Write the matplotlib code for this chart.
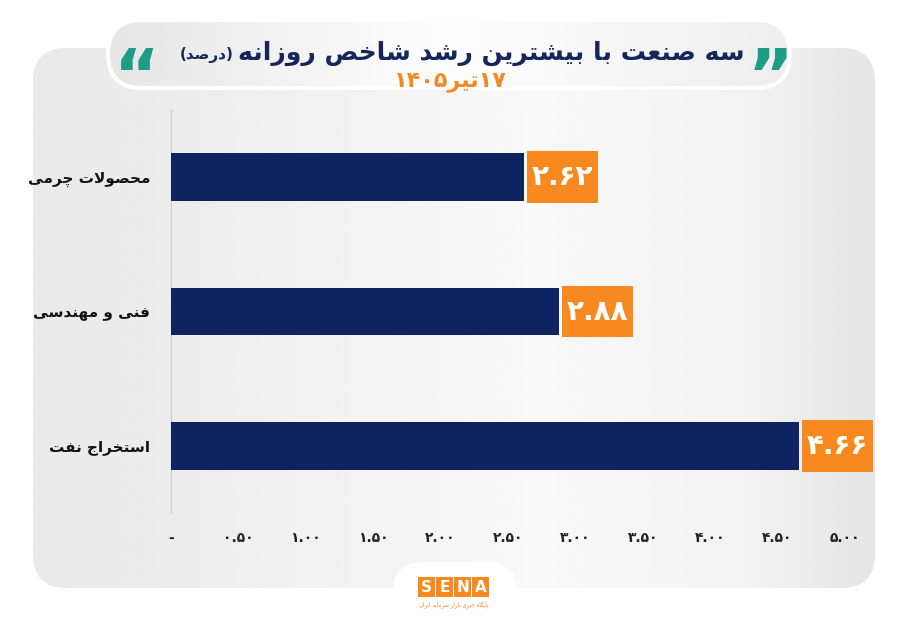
import re
import numpy as np
import matplotlib
matplotlib.use("Agg")
import matplotlib.pyplot as plt
from matplotlib.patches import FancyBboxPatch, Rectangle

# ---------------- data ----------------
categories = ["محصولات چرمی", "فنی و مهندسی", "استخراج نفت"]
values = [2.62, 2.88, 4.66]
xticks = [0, 0.5, 1.0, 1.5, 2.0, 2.5, 3.0, 3.5, 4.0, 4.5, 5.0]
title_main = "سه صنعت با بیشترین رشد شاخص روزانه"
title_unit = "(درصد)"
subtitle = "۱۷تیر۱۴۰۵"
logo_letters = ["S", "E", "N", "A"]
logo_caption = "پایگاه خبری بازار سرمایه ایران"

# ---------------- simple Arabic/Persian shaping ----------------
DUAL = {'ب': 0xFE8F, 'پ': 0xFB56, 'ت': 0xFE95, 'ث': 0xFE99, 'ج': 0xFE9D, 'چ': 0xFB7A,
        'ح': 0xFEA1, 'خ': 0xFEA5, 'س': 0xFEB1, 'ش': 0xFEB5, 'ص': 0xFEB9, 'ض': 0xFEBD,
        'ط': 0xFEC1, 'ظ': 0xFEC5, 'ع': 0xFEC9, 'غ': 0xFECD, 'ف': 0xFED1, 'ق': 0xFED5,
        'ک': 0xFB8E, 'گ': 0xFB92, 'ل': 0xFEDD, 'م': 0xFEE1, 'ن': 0xFEE5, 'ه': 0xFEE9,
        'ی': 0xFBFC, 'ئ': 0xFE89}
RIGHT = {'ا': 0xFE8D, 'آ': 0xFE81, 'د': 0xFEA9, 'ذ': 0xFEAB, 'ر': 0xFEAD, 'ز': 0xFEAF,
         'ژ': 0xFB8A, 'و': 0xFEED}


def shape(s):
    out = []
    i, n = 0, len(s)
    while i < n:
        c = s[i]
        pc = i > 0 and s[i - 1] in DUAL
        if c == 'ل' and i + 1 < n and s[i + 1] == 'ا':
            out.append('\uFEFC' if pc else '\uFEFB')
            i += 2
            continue
        nxt = s[i + 1] if i + 1 < n else ''
        nc = nxt in DUAL or nxt in RIGHT
        if c in DUAL:
            b = DUAL[c]
            out.append(chr(b + 3) if (pc and nc) else chr(b + 1) if pc else chr(b + 2) if nc else chr(b))
        elif c in RIGHT:
            b = RIGHT[c]
            out.append(chr(b + 1) if pc else chr(b))
        else:
            out.append(c)
        i += 1
    vis = ''.join(out)[::-1]
    vis = re.sub(r'[0-9\u06F0-\u06F9.]+', lambda m: m.group(0)[::-1], vis)
    vis = vis.translate(str.maketrans({'(': ')', ')': '('}))
    return vis


def fa_digits(s):
    return s.translate(str.maketrans("0123456789", "۰۱۲۳۴۵۶۷۸۹"))


FONT = ['DejaVu Sans']
NAVY = '#0e2360'
ORANGE = '#f7891f'
TITLE_NAVY = '#17265a'
TEAL = '#1e9c86'

W, H = 900, 623
fig = plt.figure(figsize=(W / 100, H / 100), dpi=100)
fig.patch.set_facecolor('white')

# ---------------- background layer (pixel coordinates) ----------------
bg = fig.add_axes([0, 0, 1, 1])
bg.set_xlim(0, W)
bg.set_ylim(H, 0)
bg.axis('off')

card = FancyBboxPatch((33, 48), 842, 540, boxstyle='round,pad=0,rounding_size=34',
                      facecolor='#eeeeee', edgecolor='none', zorder=1)
bg.add_patch(card)
xs = np.linspace(0, 1, 300)
prof = np.interp(xs, [0, 0.2, 0.6, 0.85, 1], [0.915, 0.93, 0.975, 0.95, 0.9])
grad = np.tile(prof, (50, 1))
im = bg.imshow(grad, cmap='gray', vmin=0, vmax=1, extent=(33, 875, 588, 48),
               aspect='auto', zorder=2, interpolation='bicubic')
im.set_clip_path(card)

pill = FancyBboxPatch((108, 20), 682, 68, boxstyle='round,pad=0,rounding_size=34',
                      facecolor='#f2f2f2', edgecolor='none', zorder=3)
bg.add_patch(pill)
prof2 = np.interp(xs, [0, 0.5, 1], [0.9, 0.995, 0.93])
im2 = bg.imshow(np.tile(prof2, (20, 1)), cmap='gray', vmin=0, vmax=1,
                extent=(108, 790, 88, 20), aspect='auto', zorder=4, interpolation='bicubic')
im2.set_clip_path(pill)
bg.add_patch(FancyBboxPatch((108, 20), 682, 68, boxstyle='round,pad=0,rounding_size=34',
                            facecolor='none', edgecolor='white', lw=3, zorder=5))

# logo tab
bg.add_patch(FancyBboxPatch((393, 562), 124, 90, boxstyle='round,pad=0,rounding_size=30',
                            facecolor='white', edgecolor='none', zorder=3))
for k, letter in enumerate(logo_letters):
    x0 = 418 + k * 18
    bg.add_patch(Rectangle((x0, 577), 17, 20, facecolor=ORANGE, edgecolor='none', zorder=6))
    bg.text(x0 + 8.5, 587.5, letter, color='white', fontsize=11, fontweight='bold',
            ha='center', va='center', family=FONT, zorder=7)
bg.text(454, 605, shape(logo_caption), color=ORANGE, fontsize=4, ha='center', va='center',
        family=FONT, zorder=7)

# title
t_main = bg.text(745, 53, shape(title_main), color=TITLE_NAVY, fontsize=18, fontweight='bold',
                 ha='right', va='center', family=FONT, zorder=8)
fig.canvas.draw()
bb = t_main.get_window_extent()
left_px = bb.x0
bg.text(left_px - 5, 55, shape(title_unit), color=TITLE_NAVY, fontsize=11, fontweight='bold',
        ha='right', va='center', family=FONT, zorder=8)
bg.text(450, 82, shape(subtitle), color='#f08a24', fontsize=16, fontweight='bold',
        ha='center', va='center', family=FONT, zorder=8)
bg.text(137, 80, '\u201c', color=TEAL, fontsize=50, fontweight='bold', ha='center',
        va='center', family=FONT, zorder=8)
bg.text(770, 80, '\u201d', color=TEAL, fontsize=50, fontweight='bold', ha='center',
        va='center', family=FONT, zorder=8)

# ---------------- main chart ----------------
ax = fig.add_axes([171 / W, 1 - 513 / H, (845 - 171) / W, (513 - 110) / H])
ax.set_facecolor('none')
ypos = np.arange(len(categories))
ax.barh(ypos, values, height=0.357, color=NAVY, zorder=3)
ax.set_xlim(0, 5.0)
ax.set_ylim(2.5, -0.5)

px_per_unit = (845 - 171) / 5.0
gap = 3 / px_per_unit
box_w = 71 / px_per_unit
box_h = 0.387
for yi, v in zip(ypos, values):
    ax.add_patch(Rectangle((v + gap, yi - box_h / 2), box_w, box_h, facecolor=ORANGE,
                           edgecolor='none', zorder=4, clip_on=False))
    ax.text(v + gap + box_w / 2, yi, fa_digits(f"{v:.2f}"), color='white', fontsize=20,
            fontweight='bold', ha='center', va='center', family=FONT, zorder=5, clip_on=False)

ax.set_yticks(ypos)
ax.set_yticklabels([shape(c) for c in categories], fontsize=11, fontweight='bold',
                   color='#111111', family=FONT)
ax.set_xticks(xticks)
ax.set_xticklabels(['-' if t == 0 else fa_digits(f"{t:.2f}") for t in xticks],
                   fontsize=10, fontweight='bold', color='#222222', family=FONT)
ax.tick_params(axis='y', length=0, pad=15)
ax.tick_params(axis='x', length=0, pad=13)
for s in ['top', 'right', 'bottom']:
    ax.spines[s].set_visible(False)
ax.spines['left'].set_color('#d0d0d0')
ax.spines['left'].set_linewidth(1)

fig.savefig('out.png', dpi=100, facecolor='white')
